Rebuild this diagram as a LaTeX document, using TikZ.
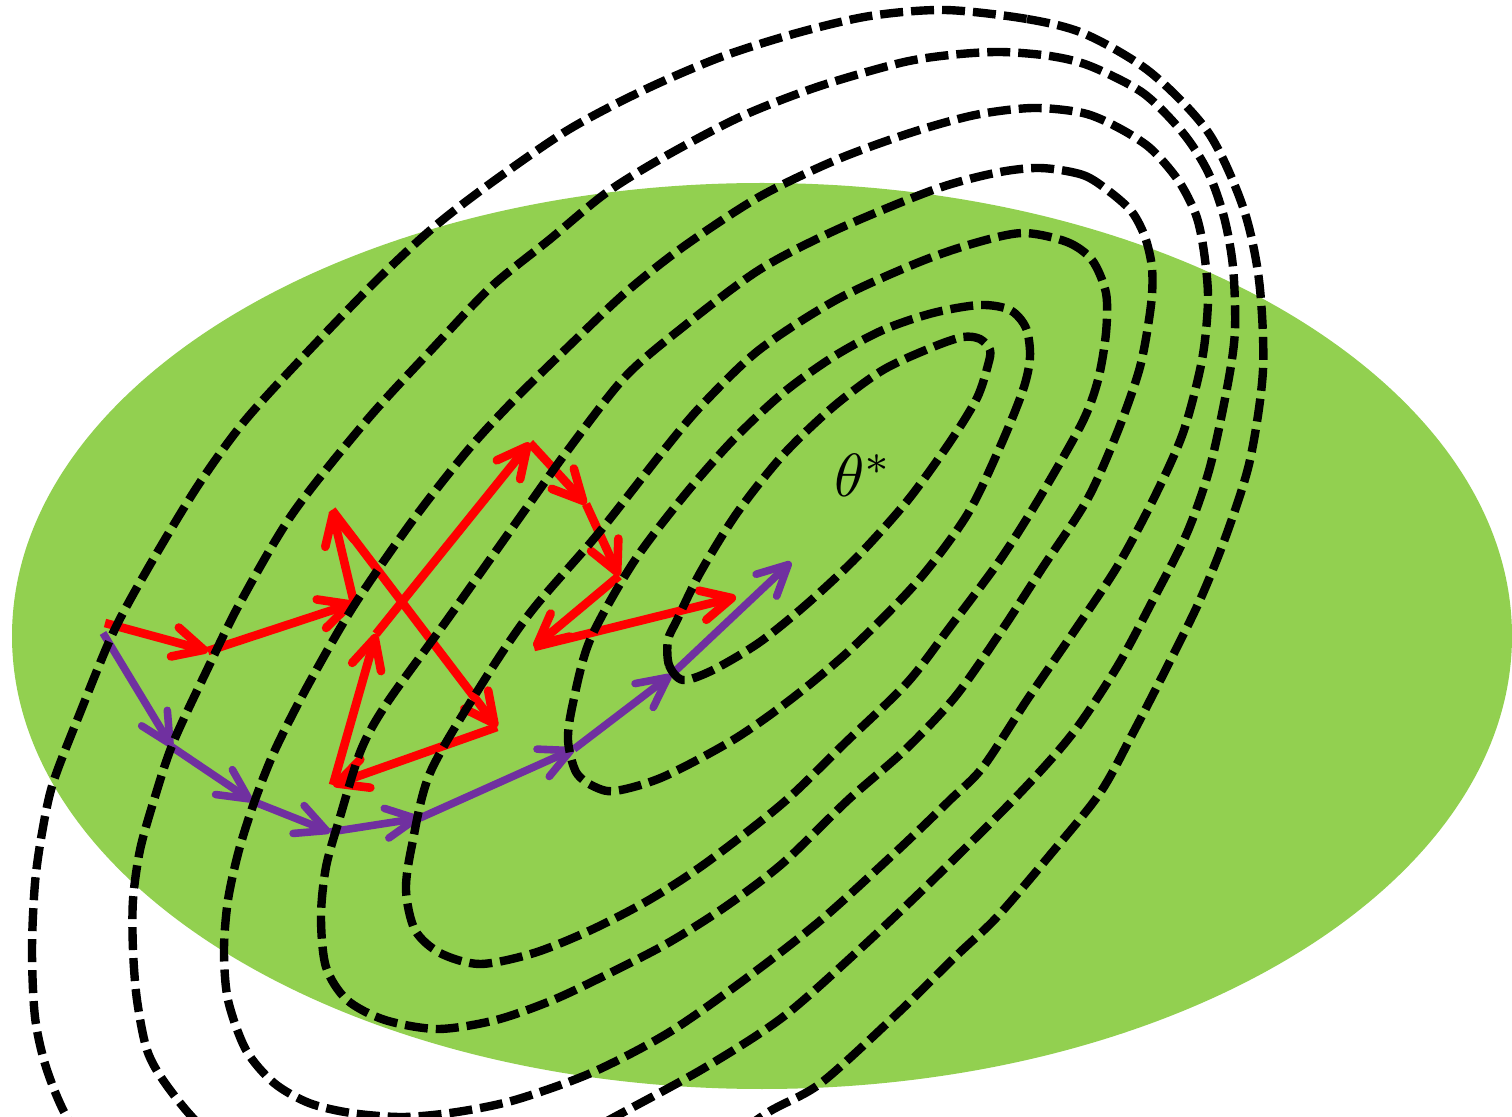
\documentclass[tikz,border=0pt]{standalone}
\usetikzlibrary{arrows.meta}
\definecolor{leaf}{RGB}{146,208,80}
\definecolor{redarrow}{RGB}{255,0,0}
\definecolor{purparrow}{RGB}{112,48,160}
\begin{document}
\begin{tikzpicture}[x=0.5pt,y=-0.5pt,
  contour/.style={draw=black,line width=4.2pt,dash pattern=on 11.5pt off 4pt},
  redstep/.style={draw=redarrow,line width=4.3pt,line join=miter,-{Straight Barb[length=15pt,width=15pt,round]}},
  purstep/.style={draw=purparrow,line width=3.8pt,line join=miter,-{Straight Barb[length=15pt,width=15pt,round]}}]
\useasboundingbox (0,0) rectangle (1512,1117);
\clip (0,0) rectangle (1512,1117);
\fill[leaf] (762,636) ellipse [x radius=750, y radius=453];

% red path
\coordinate (r0) at (105,623);
\coordinate (r1) at (208,651);
\coordinate (r2) at (354,603);
\coordinate (r3) at (332,510);
\coordinate (r4) at (497,727);
\coordinate (r5) at (333,785);
\coordinate (r6) at (376,634);
\coordinate (r7) at (530,443);
\coordinate (r8) at (586,504);
\coordinate (r9) at (619,576);
\coordinate (r10) at (534,647);
\coordinate (r11) at (736,597);
\draw[redstep] (r0) -- (r1);
\draw[redstep] (r1) -- (r2);
\draw[redstep] (r2) -- (r3);
\draw[redstep] (r3) -- (r4);
\draw[redstep] (r4) -- (r5);
\draw[redstep] (r5) -- (r6);
\draw[redstep] (r6) -- (r7);
\draw[redstep] (r7) -- (r8);
\draw[redstep] (r8) -- (r9);
\draw[redstep] (r9) -- (r10);
\draw[redstep] (r10) -- (r11);

% purple path
\coordinate (p0) at (103,633);
\coordinate (p1) at (172,747);
\coordinate (p2) at (252,801);
\coordinate (p3) at (330,832);
\coordinate (p4) at (420,818);
\coordinate (p5) at (574,749);
\coordinate (p6) at (671,675);
\coordinate (p7) at (791,562);
\draw[purstep] (p0) -- (p1);
\draw[purstep] (p1) -- (p2);
\draw[purstep] (p2) -- (p3);
\draw[purstep] (p3) -- (p4);
\draw[purstep] (p4) -- (p5);
\draw[purstep] (p5) -- (p6);
\draw[purstep] (p6) -- (p7);

% contours
\draw[contour] plot[smooth cycle] coordinates {(668,640) (669,665) (683,680) (713,670) (760,642) (808,603) (858,556) (908,500) (950,442) (977,398) (988,365) (990,350) (980,339) (963,337) (933,347) (883,370) (833,407) (783,455) (737,513) (700,573) (677,620)};
\draw[contour] plot[smooth cycle] coordinates {(1030,357) (1026,328) (1010,310) (980,305) (933,313) (883,330) (833,357) (783,393) (733,440) (683,497) (633,563) (590,640) (573,703) (568,740) (576,772) (593,786) (615,791) (663,777) (733,740) (790,700) (850,650) (917,582) (967,515) (1000,447) (1023,390)};
\draw[contour] plot[smooth cycle] coordinates {(1023,233) (1067,242) (1092,260) (1106,293) (1106,333) (1098,380) (1082,423) (1040,497) (1000,560) (950,627) (907,683) (845,743) (783,803) (706,863) (649,900) (591,930) (534,953) (480,964) (440,953) (415,930) (406,890) (412,845) (430,773) (480,687) (530,613) (597,535) (664,450) (702,405) (759,350) (836,300) (917,263) (975,243)};
\draw[contour] plot[smooth cycle] coordinates {(1040,168) (1083,175) (1110,192) (1132,212) (1145,237) (1152,268) (1151,305) (1140,367) (1117,433) (1087,500) (1043,567) (1000,633) (955,697) (905,750) (848,800) (783,863) (725,907) (668,943) (610,973) (553,1000) (496,1020) (438,1029) (385,1020) (347,1000) (326,967) (321,917) (326,867) (340,817) (361,750) (387,703) (447,620) (530,503) (568,450) (625,377) (683,327) (759,270) (836,230) (933,190) (995,173)};
\draw[contour] plot[smooth cycle] coordinates {(1033,108) (1083,113) (1117,127) (1150,148) (1178,180) (1196,215) (1204,252) (1208,300) (1202,360) (1183,433) (1153,500) (1117,567) (1073,633) (1027,700) (983,767) (950,800) (898,850) (821,920) (744,980) (668,1033) (591,1073) (515,1100) (457,1112) (403,1117) (351,1113) (309,1103) (274,1083) (246,1050) (228,1000) (224,950) (228,900) (239,850) (255,800) (275,750) (307,687) (353,607) (413,520) (468,450) (514,400) (568,347) (625,293) (683,247) (759,197) (836,160) (910,133) (975,115)};
\draw[contour] plot[smooth cycle] coordinates {(1000,52) (1050,56) (1090,66) (1143,93) (1183,133) (1208,172) (1224,217) (1233,267) (1235,330) (1228,383) (1210,467) (1187,533) (1153,600) (1117,667) (1073,733) (1020,793) (936,877) (859,950) (783,1017) (706,1067) (622,1113) (560,1145) (480,1175) (400,1190) (320,1185) (250,1160) (200,1125) (165,1083) (147,1050) (137,1000) (133,950) (133,900) (140,850) (154,800) (173,743) (207,670) (240,603) (293,513) (367,420) (434,347) (491,287) (549,240) (606,193) (664,157) (740,117) (817,87) (900,63) (950,55)};
\draw[contour] plot[smooth cycle] coordinates {(945,10) (1027,19) (1085,34) (1150,72) (1208,132) (1243,207) (1259,280) (1263,370) (1250,460) (1227,533) (1200,600) (1167,667) (1133,733) (1100,793) (1050,855) (997,917) (955,957) (898,1013) (821,1083) (767,1113) (700,1160) (600,1215) (480,1250) (360,1255) (250,1235) (160,1195) (100,1155) (67,1117) (46,1067) (35,1017) (32,950) (35,883) (42,833) (53,783) (80,713) (113,633) (147,570) (197,487) (243,423) (300,360) (377,280) (434,227) (491,183) (568,130) (644,90) (721,57) (797,33) (870,16)};

\node[anchor=base west,inner sep=0pt,scale=3.05] (theta) at (833,497) {$\theta^*$};
\end{tikzpicture}
\end{document}
